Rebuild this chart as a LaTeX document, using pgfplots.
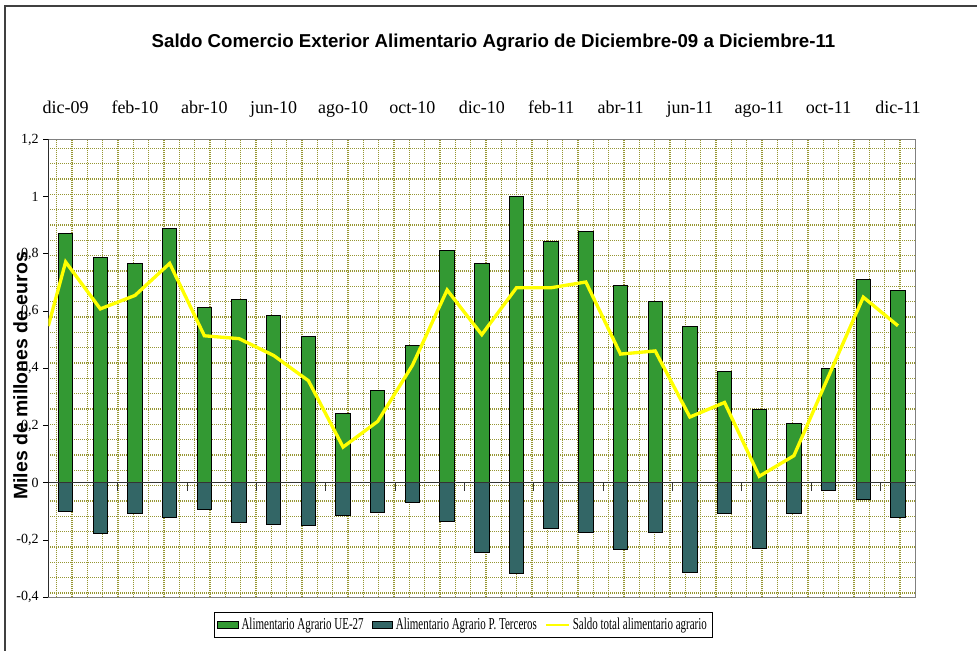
\documentclass[border=0pt]{standalone}
\usepackage{fontspec}
\setmainfont{Liberation Serif}
\setsansfont{Liberation Sans}
\newfontfamily\condserif{Liberation Serif}[FakeStretch=0.66]
\usepackage{pgfplots}
\pgfplotsset{compat=1.18}
\definecolor{ueg}{HTML}{339933}
\definecolor{terc}{HTML}{336666}
\definecolor{saldo}{HTML}{FFFF00}
\definecolor{gridol}{RGB}{150,150,50}
\definecolor{boxgray}{HTML}{808080}

\begin{document}
\begin{tikzpicture}
% page = 977 x 650 px, 1 px = 0.75pt, axis origin at px (48.3, 597.3)
\path[use as bounding box] (-36.225pt,-39.525pt) rectangle (696.525pt,447.975pt);
\draw[line width=1.5pt, black!75] (-32.475pt,-45pt) -- (-32.475pt,443.475pt) -- (700pt,443.475pt);

% dotted background grid of the plot area
\begin{axis}[at={(0,0)}, anchor=south west, scale only axis,
  width=650.25pt, height=343.35pt,
  xmin=-0.5, xmax=24.5, ymin=-0.4, ymax=1.2,
  axis line style={draw=none}, major tick length=0pt,
  xtick={-0.258,0.184,0.626,1.068,1.510,1.953,2.395,2.837,3.279,3.721,4.163,4.605,
    5.047,5.489,5.931,6.374,6.816,7.258,7.700,8.142,8.584,9.026,9.468,9.910,10.352,
    10.795,11.237,11.679,12.121,12.563,13.005,13.447,13.889,14.331,14.773,15.216,
    15.658,16.100,16.542,16.984,17.426,17.868,18.310,18.752,19.194,19.637,20.079,
    20.521,20.963,21.405,21.847,22.289,22.731,23.173,23.615,24.058},
  ytick={-0.385,-0.3314,-0.2778,-0.2242,-0.1706,-0.117,-0.0634,-0.0098,0.0438,
    0.0974,0.151,0.2046,0.2582,0.3118,0.3654,0.419,0.4726,0.5262,0.5798,0.6334,
    0.687,0.7406,0.7942,0.8478,0.9014,0.955,1.0086,1.0622,1.1158,1.1694},
  xticklabels={}, yticklabels={},
  grid=major,
  major grid style={draw=gridol, line width=0.9pt, dash pattern=on 0.8pt off 0.7pt},
]
\end{axis}

\begin{axis}[at={(0,0)}, anchor=south west, scale only axis,
  width=650.25pt, height=343.35pt,
  xmin=-0.5, xmax=24.5, ymin=-0.4, ymax=1.2,
  axis line style={draw=boxgray, line width=1pt},
  xtick={0,2,...,24},
  xticklabels={dic-09,feb-10,abr-10,jun-10,ago-10,oct-10,dic-10,feb-11,abr-11,jun-11,ago-11,oct-11,dic-11},
  xticklabel pos=upper, xtick style={draw=none},
  xticklabel style={font=\fontsize{13.5}{15}\selectfont, anchor=base, yshift=15.9pt},
  ytick={-0.4,-0.2,0,0.2,0.4,0.6,0.8,1,1.2},
  yticklabels={{-0,4},{-0,2},0,{0,2},{0,4},{0,6},{0,8},1,{1,2}},
  ytick pos=left, tick align=outside, major tick length=3.75pt,
  ytick style={black, line width=0.75pt},
  yticklabel style={font=\fontsize{10.5}{12}\selectfont},
  title={Saldo Comercio Exterior Alimentario Agrario de Diciembre-09 a Diciembre-11},
  title style={at={(rel axis cs:0.5135,1.1839)}, anchor=base,
    font=\sffamily\bfseries\fontsize{14}{16}\selectfont},
  ylabel={Miles de millones de euros},
  every axis y label/.style={at={(rel axis cs:-0.0321,0.4835)}, rotate=90, anchor=center,
    font=\sffamily\bfseries\fontsize{14.6}{16}\selectfont},
  legend columns=3,
  legend style={at={(rel axis cs:0.4789,-0.0606)}, anchor=center, draw=black,
    line width=0.75pt, inner sep=2pt, font=\condserif\fontsize{12.5}{14}\selectfont,
    /tikz/every even column/.append style={column sep=4pt}},
]
\addplot[ybar, bar shift=0pt, bar width=10.8pt, fill=ueg, draw=black, line width=0.75pt,
  legend image code/.code={\draw[fill=ueg, draw=black, line width=0.6pt] (0pt,-2.5pt) rectangle (15.5pt,2.5pt);}]
  coordinates {(0,0.870) (1,0.787) (2,0.765) (3,0.889) (4,0.612) (5,0.642) (6,0.586)
    (7,0.511) (8,0.242) (9,0.324) (10,0.480) (11,0.811) (12,0.768) (13,1.001) (14,0.843)
    (15,0.880) (16,0.690) (17,0.635) (18,0.545) (19,0.390) (20,0.257) (21,0.208)
    (22,0.399) (23,0.709) (24,0.674)};
\addlegendentry{Alimentario Agrario UE-27}
\addplot[ybar, bar shift=0pt, bar width=10.8pt, fill=terc, draw=black, line width=0.75pt,
  legend image code/.code={\draw[fill=terc, draw=black, line width=0.6pt] (0pt,-2.5pt) rectangle (15.5pt,2.5pt);}]
  coordinates {(0,-0.101) (1,-0.178) (2,-0.108) (3,-0.120) (4,-0.092) (5,-0.140)
    (6,-0.147) (7,-0.150) (8,-0.113) (9,-0.104) (10,-0.069) (11,-0.135) (12,-0.245)
    (13,-0.316) (14,-0.158) (15,-0.175) (16,-0.233) (17,-0.175) (18,-0.314) (19,-0.108)
    (20,-0.228) (21,-0.108) (22,-0.027) (23,-0.057) (24,-0.120)};
\addlegendentry{Alimentario Agrario P. Terceros}
% zero line with its tick marks
\draw[black!80, line width=0.9pt] (axis cs:-0.5,0) -- (axis cs:24.5,0);
\pgfplotsinvokeforeach{1.5,3.5,5.5,7.5,9.5,11.5,13.5,15.5,17.5,19.5,21.5,23.5}{
  \draw[black!80, line width=0.75pt] (axis cs:#1,0) -- ++(0pt,-6pt);
}
\draw[black, line width=1pt] (rel axis cs:0,0) -- (rel axis cs:0,1);
\addplot[saldo, line width=2.5pt, mark=none,
  legend image code/.code={\draw[saldo, line width=2pt] (0pt,0pt) -- (17pt,0pt);}]
  coordinates {(-0.5,0.548) (0,0.772) (1,0.608) (2,0.655) (3,0.767) (4,0.514) (5,0.504)
    (6,0.445) (7,0.357) (8,0.125) (9,0.215) (10,0.411) (11,0.674) (12,0.518) (13,0.682)
    (14,0.682) (15,0.702) (16,0.450) (17,0.461) (18,0.230) (19,0.281) (20,0.023)
    (21,0.095) (22,0.373) (23,0.649) (24,0.549)};
\addlegendentry{Saldo total alimentario agrario}
\end{axis}
\end{tikzpicture}
\end{document}
